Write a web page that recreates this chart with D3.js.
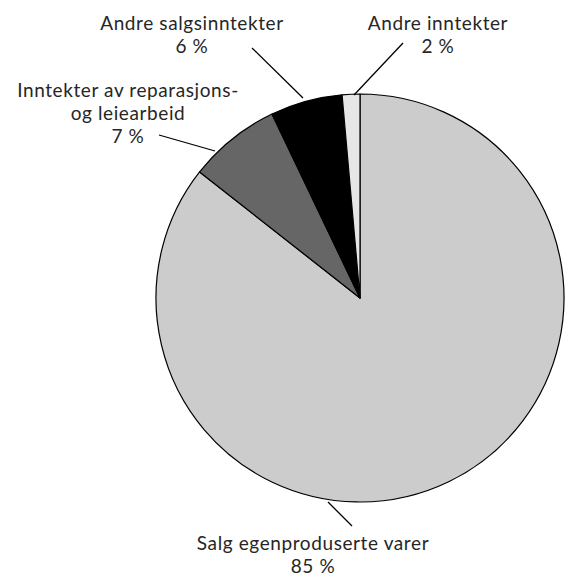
<!DOCTYPE html>
<html>
<head>
<meta charset="utf-8">
<script src="https://cdn.jsdelivr.net/npm/d3@7"></script>
<style>
  html, body { margin: 0; padding: 0; background: #fff; }
  text { font-family: Lato, "Open Sans", sans-serif; fill: #262626; font-weight: 400; letter-spacing: 0.6px; }
</style>
</head>
<body>
<svg id="chart" width="565" height="577"></svg>
<script>
// Data (clockwise from 12 o'clock)
const categories = [
  "Salg egenproduserte varer",
  "Inntekter av reparasjons-|og leiearbeid",
  "Andre salgsinntekter",
  "Andre inntekter"
];
const values = [85.6, 7.3, 5.7, 1.4];
const valueLabels = ["85 %", "7 %", "6 %", "2 %"];
const colors = ["#cccccc", "#666666", "#000000", "#e6e6e6"];

const svg = d3.select("#chart");
const cx = 360, cy = 298, r = 204;

const pie = d3.pie().sort(null).value(d => d.v);
const arcs = pie(values.map((v, i) => ({ v, i })));
const arc = d3.arc().innerRadius(0).outerRadius(r);

const g = svg.append("g").attr("transform", `translate(${cx},${cy})`);
g.selectAll("path.slice")
  .data(arcs)
  .join("path")
  .attr("class", "slice")
  .attr("d", arc)
  .attr("fill", (d, i) => colors[i])
  .attr("stroke", "#000")
  .attr("stroke-width", 1.2)
  .attr("stroke-linejoin", "round");

// Label layout (positions only)
const labelPos = [
  { x: 313, y: 550, lead: [[328, 502], [352, 526]] },
  { x: 128, y: 97,  lead: [[215, 151], [159, 135]] },
  { x: 192, y: 30,  lead: [[303, 98], [252, 48]] },
  { x: 438, y: 30,  lead: [[354, 95], [403, 43]] }
];
const lineH = 23;

categories.forEach((c, i) => {
  const p = labelPos[i];
  svg.append("line")
    .attr("x1", p.lead[0][0]).attr("y1", p.lead[0][1])
    .attr("x2", p.lead[1][0]).attr("y2", p.lead[1][1])
    .attr("stroke", "#000").attr("stroke-width", 1.3);
  const lines = c.split("|").concat([valueLabels[i]]);
  lines.forEach((ln, k) => {
    svg.append("text")
      .attr("text-anchor", "middle")
      .attr("font-size", 19)
      .attr("x", p.x).attr("y", p.y + k * lineH).text(ln);
  });
});
</script>
</body>
</html>
